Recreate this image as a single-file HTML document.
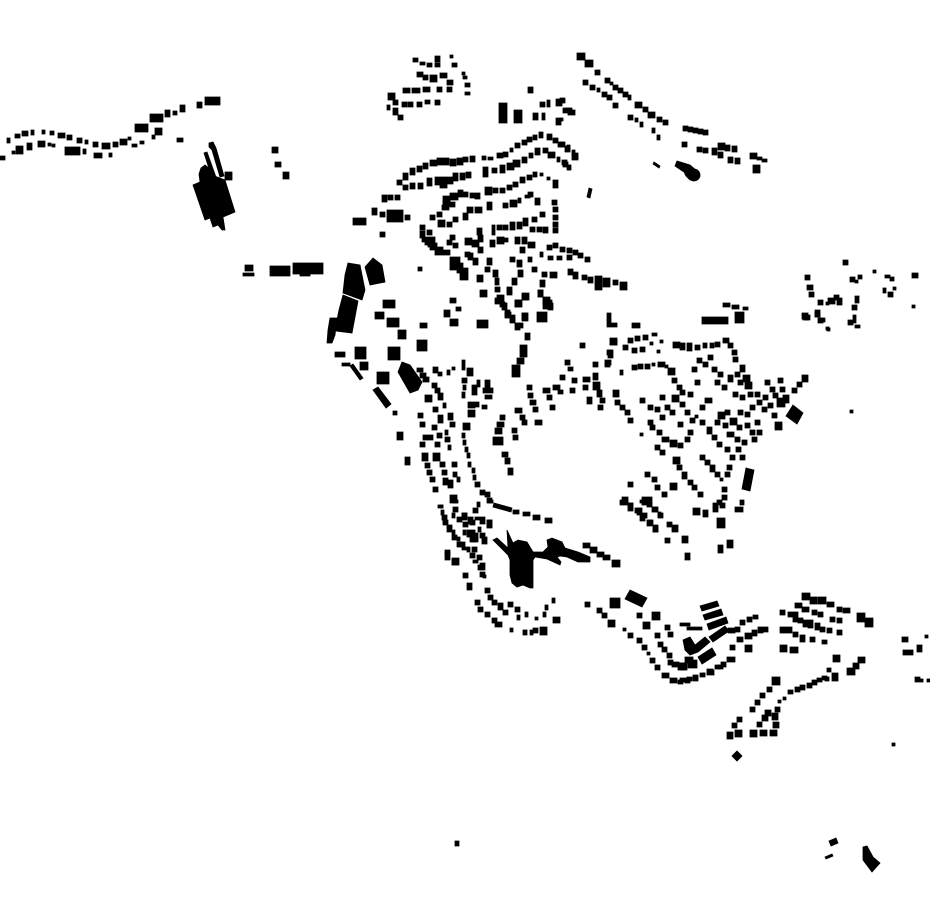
<!DOCTYPE html>
<html><head><meta charset="utf-8"><style>html,body{margin:0;padding:0;background:#fff;}svg{display:block;}</style></head>
<body>
<svg width="930" height="924" viewBox="0 0 930 924" xmlns="http://www.w3.org/2000/svg">
<rect width="930" height="924" fill="#fff"/>
<g fill="#000" stroke="#000" stroke-width="0.8" stroke-linejoin="miter">
<!-- top-left road -->
<path d="M7 138h3v5h-3zM15 134h5v4h-5zM22 131h6v5h-6zM31 130h3v5h-3zM42 130h3v4h-3zM50 131h4v4h-4zM58 133h7v5h-7zM67 135h5v5h-5zM77 138h5v5h-5zM85 140h3v4h-3zM93 142h5v5h-5zM102 143h8v6h-8zM113 142h5v5h-5zM120 139h7v6h-7zM128 137h3v3h-3zM135 124h13v8h-13zM150 114h13v8h-13zM165 110h5v7h-5zM173 111h4v4h-4zM180 105h5v7h-5zM197 102h5v6h-5zM205 97h15v8h-15zM0 156h5v4h-5zM12 151h3v3h-3zM16 146h7v8h-7zM27 143h5v7h-5zM38 141h7v6h-7zM48 143h3v3h-3zM52 144h3v3h-3zM65 147h15v8h-15zM83 149h3v5h-3zM94 153h8v5h-8zM109 153h3v4h-3zM132 144h5v3h-5zM140 141h4v3h-4zM152 135h3v4h-3zM155 128h7v7h-7zM177 138h6v4h-6z"/>
<polygon points="193,185 200,182 199,174 201,168 205,165 210,169 212,175 225,180 235,212 223,217 225,230 222,230 218,225 213,227 210,218 205,220"/>
<polygon points="209,143 213,142 216,148 224,176 220,177 212,150 209,147"/>
<polygon points="204,153 207,152 217,180 213,181"/>
<path d="M225 172h7v8h-7zM272 147h6v6h-6zM275 162h6v5h-6zM283 172h6v7h-6zM245 265h8v6h-8zM243 273h11v3h-11zM270 266h20v10h-20zM293 263h30v11h-30zM300 270h10v6h-10z"/>
<!-- top cluster -->
<path d="M413 58h5v4h-5zM420 62h5v3h-5zM427 63h5v4h-5zM435 56h5v6h-5zM435 63h5v4h-5zM450 55h3v3h-3zM452 63h5v4h-5zM462 72h3v3h-3zM463 76h4v3h-4zM465 83h5v4h-5zM465 92h5v3h-5zM417 72h6v5h-6zM423 75h5v5h-5zM430 75h7v7h-7zM440 73h7v5h-7zM447 80h6v5h-6zM403 88h7v5h-7zM412 88h8v5h-8zM423 87h7v5h-7zM437 87h5v5h-5zM447 87h5v5h-5zM388 93h7v7h-7zM393 100h5v5h-5zM402 102h5v5h-5zM408 102h5v5h-5zM417 102h5v5h-5zM425 100h5v4h-5zM435 100h5v5h-5zM387 105h3v5h-3zM393 108h5v7h-5zM398 115h5v5h-5z"/>
<path d="M499 103h8v20h-8zM514 110h8v13h-8zM528 87h5v6h-5zM533 113h5v7h-5zM540 102h5v5h-5zM547 100h3v7h-3zM542 113h3v7h-3zM556 99h6v7h-6zM563 108h7v5h-7zM568 110h7v5h-7zM556 118h5v7h-5z"/>
<!-- row A -->
<path d="M397 180h5v5h-5zM403 173h5v7h-5zM410 168h5v7h-5zM417 166h5v6h-5zM423 163h5v6h-5zM430 160h7v6h-7zM437 158h6v7h-6zM443 158h6v7h-6zM450 159h6v7h-6zM457 158h6v7h-6zM463 157h5v5h-5zM470 156h5v6h-5zM482 156h4v4h-4zM488 157h5v3h-5zM497 153h6v5h-6zM503 152h5v5h-5zM510 148h3v4h-3zM515 143h5v5h-5zM522 140h5v5h-5zM527 137h5v5h-5zM533 135h4v5h-4zM539 132h4v6h-4zM547 134h5v6h-5zM553 138h5v5h-5zM558 142h5v5h-5zM565 146h5v6h-5zM572 153h6v7h-6z"/>
<!-- row B -->
<path d="M403 185h5v5h-5zM410 183h5v6h-5zM418 183h5v6h-5zM427 178h5v8h-5zM435 177h5v8h-5zM440 177h7v11h-7zM447 177h6v7h-6zM453 173h5v8h-5zM460 173h5v7h-5zM466 172h5v6h-5zM483 167h5v10h-5zM492 168h5v5h-5zM500 165h5v8h-5zM507 163h7v7h-7zM513 160h7v7h-7zM522 157h5v6h-5zM529 153h4v5h-4zM535 148h5v7h-5zM543 148h5v5h-5zM548 152h7v6h-7zM557 157h3v5h-3zM562 160h5v5h-5zM567 165h3v5h-3z"/>
<!-- row C -->
<path d="M443 196h7v7h-7zM450 193h8v7h-8zM458 190h5v7h-5zM463 192h5v5h-5zM470 193h5v5h-5zM475 193h5v6h-5zM485 187h7v8h-7zM493 188h5v5h-5zM500 188h5v5h-5zM507 185h5v5h-5zM513 182h5v5h-5zM520 177h5v6h-5zM527 175h5v5h-5zM533 172h4v5h-4zM540 173h3v3h-3zM547 177h3v3h-3zM553 180h5v8h-5z"/>
<!-- row D -->
<path d="M430 215h5v5h-5zM437 212h5v5h-5zM442 205h7v5h-7zM443 201h7v5h-7zM450 202h5v5h-5zM467 207h6v6h-6zM475 207h7v6h-7zM487 202h5v8h-5zM503 203h5v5h-5zM510 200h7v7h-7zM518 198h3v5h-3zM525 195h5v3h-5zM528 192h5v5h-5zM535 198h5v7h-5zM552 200h5v5h-5zM553 207h5v5h-5zM553 215h5v5h-5zM553 222h5v5h-5zM553 228h5v5h-5z"/>
<!-- row E -->
<path d="M420 225h5v5h-5zM420 231h5v7h-5zM427 230h5v5h-5zM438 220h7v7h-7zM447 222h5v5h-5zM453 217h5v5h-5zM463 213h5v7h-5zM477 228h5v7h-5zM492 225h3v10h-3zM497 225h5v5h-5zM503 225h5v5h-5zM510 222h5v8h-5zM517 222h5v7h-5zM523 218h5v8h-5zM532 217h5v5h-5zM540 212h5v5h-5zM530 227h5v5h-5zM537 227h5v5h-5zM543 227h5v6h-5z"/>
<!-- row F -->
<path d="M422 237h7v5h-7zM425 240h5v5h-5zM428 237h7v10h-7zM430 243h7v7h-7zM435 247h8v8h-8zM443 250h7v5h-7zM447 240h5v5h-5zM450 235h5v5h-5zM453 243h5v5h-5zM465 238h7v7h-7zM472 240h7v7h-7zM478 235h5v7h-5zM478 247h5v6h-5zM490 240h5v7h-5zM497 237h7v7h-7zM503 238h5v4h-5zM515 237h5v7h-5zM522 237h5v7h-5zM528 242h7v6h-7z"/>
<!-- row G -->
<path d="M450 257h10v13h-10zM457 263h6v10h-6zM460 268h8v12h-8zM465 252h5v5h-5zM468 253h5v7h-5zM473 258h5v7h-5zM477 275h6v7h-6zM487 258h5v7h-5zM485 267h5v5h-5zM493 270h5v7h-5zM495 278h4v7h-4zM495 287h5v5h-5zM497 295h7v7h-7zM502 303h5v7h-5zM505 310h5v7h-5zM510 315h5v7h-5zM518 323h5v5h-5zM507 287h5v6h-5zM512 278h5v7h-5zM518 270h5v7h-5zM517 260h5v7h-5zM520 247h5v6h-5zM510 257h5v5h-5zM515 300h7v7h-7zM522 293h7v7h-7zM522 313h5v7h-5z"/>
<!-- right fork -->
<path d="M528 257h4v5h-4zM540 252h3v5h-3zM547 245h5v5h-5zM553 243h5v5h-5zM560 247h5v5h-5zM567 248h5v5h-5zM573 250h5v5h-5zM578 253h5v5h-5zM585 257h5v5h-5zM548 256h5v4h-5zM557 256h5v4h-5zM567 255h5v5h-5zM532 267h5v5h-5zM542 272h5v5h-5zM550 272h7v6h-7zM540 280h5v7h-5zM538 290h5v7h-5zM543 297h7v7h-7zM548 303h5v7h-5zM538 313h7v7h-7zM568 269h5v6h-5zM573 272h5v7h-5zM582 275h5v5h-5zM588 277h5v6h-5zM595 276h7v14h-7zM603 278h7v9h-7zM613 280h5v5h-5zM620 282h7v8h-7zM607 313h4v12h-4zM607 323h10v4h-10z"/>
<polygon points="589,188 592,189 590,198 587,197"/>
<!-- left side small -->
<path d="M353 218h5v7h-5zM358 218h8v7h-8zM380 232h5v5h-5zM372 208h5v7h-5zM380 212h5v5h-5zM387 210h16v12h-16zM405 215h5v5h-5zM382 195h5v7h-5zM388 195h5v5h-5zM395 195h5v5h-5z"/>
<path d="M383 300h12v8h-12zM375 312h9v7h-9zM387 318h12v9h-12zM398 330h8v9h-8zM418 267h4v4h-4zM420 323h7v5h-7zM417 340h10v11h-10zM450 298h6v5h-6zM456 307h5v4h-5zM444 310h6v7h-6zM450 319h8v7h-8zM477 320h11v8h-11zM480 290h7v7h-7zM495 298h6v6h-6zM500 302h5v5h-5zM505 312h6v6h-6zM510 318h5v5h-5zM515 323h5v7h-5zM507 290h5v5h-5zM515 300h5v7h-5zM522 295h6v5h-6zM522 313h6v8h-6zM538 290h5v7h-5zM543 300h9v9h-9zM537 312h10v10h-10zM525 333h5v7h-5zM520 345h7v7h-7zM520 352h7v5h-7zM517 358h7v6h-7zM512 365h8v12h-8z"/>
<polygon points="348,263 360,265 365,290 362,300 343,293 345,275"/>
<polygon points="343,295 358,301 352,333 336,331 337,320 339,310"/>
<polygon points="330,318 337,318 335,335 332,343 327,343 328,330"/>
<polygon points="365,267 373,258 382,265 385,282 370,285"/>
<path d="M355 347h11v12h-11zM360 362h8v8h-8zM335 352h10v5h-10zM342 363h8v3h-8zM388 347h12v13h-12zM377 372h12v12h-12zM393 411h4v4h-4zM397 432h6v8h-6zM405 457h5v8h-5z"/>
<polygon points="350,366 353,364 363,378 360,380"/>
<polygon points="402,362 410,365 422,382 418,390 410,393 398,372"/>
<polygon points="373,390 378,387 391,404 386,408"/>
<!-- central curves -->
<path d="M417 368h6v4h-6zM420 373h6v5h-6zM433 367h5v6h-5zM438 372h4v4h-4zM447 370h3v5h-3zM452 367h3v3h-3zM423 377h6v5h-6zM432 383h5v5h-5zM435 388h5v5h-5zM425 395h7v7h-7zM438 393h5v7h-5zM443 403h3v5h-3zM433 407h5v5h-5zM418 413h5v5h-5zM420 422h5v5h-5zM432 425h5v5h-5zM438 415h5v8h-5zM448 413h5v7h-5zM450 422h5v5h-5zM423 435h5v5h-5zM420 442h5v5h-5zM428 435h5v5h-5zM437 433h5v5h-5zM445 430h3v5h-3zM435 442h5v5h-5zM445 437h5v5h-5zM448 445h3v5h-3zM422 453h6v8h-6zM433 453h7v8h-7zM425 463h5v5h-5zM427 470h5v5h-5zM430 477h5v5h-5zM433 487h5v5h-5zM440 462h5v5h-5zM442 470h5v5h-5zM443 478h5v7h-5zM448 480h5v8h-5zM452 462h5v5h-5zM453 472h4v5h-4zM457 477h3v5h-3zM450 495h7v8h-7zM453 507h5v5h-5zM440 505h3v3h-3zM442 515h5v5h-5zM443 520h5v5h-5zM447 527h5v5h-5zM452 535h5v5h-5zM457 542h5v5h-5zM462 547h5v3h-5zM462 513h5v7h-5zM463 522h5v5h-5zM467 530h5v7h-5zM470 537h5v5h-5zM472 547h5v5h-5zM477 555h5v5h-5zM480 563h5v7h-5zM483 575h3v3h-3zM468 517h5v7h-5zM473 533h5v7h-5zM482 537h5v7h-5zM445 552h5v8h-5zM452 558h7v7h-7zM463 573h5v5h-5zM467 583h5v7h-5z"/>
<path d="M462 433h3v5h-3zM463 440h3v5h-3zM465 447h3v5h-3zM467 453h3v5h-3zM468 462h3v5h-3zM472 468h3v5h-3zM473 475h3v5h-3zM475 482h5v5h-5zM480 490h5v5h-5zM485 492h5v5h-5zM487 498h5v5h-5zM477 502h3v5h-3zM473 508h5v5h-5zM475 517h5v3h-5zM480 517h5v7h-5zM487 520h5v8h-5z"/>
<path d="M462 360h3v10h-3zM467 368h6v8h-6zM462 378h5v5h-5zM463 385h3v5h-3zM462 392h3v6h-3zM472 385h5v10h-5zM477 380h3v7h-3zM483 388h10v5h-10zM485 380h5v10h-5zM485 395h7v4h-7zM468 402h7v6h-7zM475 402h4v5h-4zM482 405h5v4h-5zM468 410h7v7h-7zM463 423h7v7h-7z"/>
<path d="M513 510h6v4h-6zM523 512h7v4h-7zM533 515h7v5h-7zM545 518h7v5h-7z"/>
<polygon points="494,503 512,508 511,512 493,507"/>
<!-- central right -->
<path d="M493 437h10v8h-10zM495 428h7v6h-7zM497 422h7v5h-7zM500 415h5v5h-5zM512 428h5v5h-5zM513 435h5v5h-5zM502 452h6v5h-6zM505 458h5v6h-5zM508 468h5v7h-5zM515 408h7v5h-7zM520 415h5v5h-5zM522 420h5v5h-5zM527 385h5v5h-5zM528 393h5v5h-5zM530 400h6v5h-6zM533 407h5v5h-5zM535 420h7v5h-7zM543 388h7v5h-7zM547 395h5v5h-5zM550 405h5v5h-5zM553 385h7v5h-7zM558 390h5v4h-5zM560 375h5v5h-5zM565 360h5v5h-5zM568 367h5v4h-5zM572 378h5v5h-5zM570 388h5v5h-5zM580 343h5v5h-5zM583 377h7v5h-7zM583 385h5v5h-5zM587 397h5v7h-5zM593 373h5v7h-5zM593 382h7v8h-7zM597 390h5v7h-5zM600 398h5v5h-5zM593 362h5v5h-5zM605 362h5v5h-5zM607 350h5v5h-5zM610 338h7v7h-7zM613 390h6v7h-6zM615 400h5v5h-5z"/>
<!-- east cluster -->
<path d="M723 303h7v4h-7zM732 305h7v4h-7zM743 307h5v3h-5zM702 317h26v7h-26zM735 312h9v11h-9zM803 315h7v5h-7zM815 310h5v7h-5zM820 318h5v4h-5zM827 328h3v3h-3zM632 323h8v5h-8zM610 339h7v6h-7zM608 350h5v8h-5zM605 360h6v5h-6zM620 370h3v5h-3zM623 345h5v5h-5zM628 338h5v5h-5zM632 348h5v5h-5zM635 336h5v5h-5zM640 347h5v5h-5zM643 335h5v5h-5zM650 342h3v3h-3zM652 333h5v3h-5zM660 340h3v3h-3zM657 350h3v3h-3zM673 342h7v6h-7zM680 343h5v7h-5zM687 343h5v8h-5zM695 345h5v5h-5zM703 343h4v5h-4zM710 343h4v5h-4zM715 342h5v5h-5zM723 338h6v5h-6zM728 343h5v5h-5zM732 350h5v5h-5zM733 357h5v5h-5zM740 365h5v7h-5zM743 375h7v7h-7zM632 365h5v5h-5zM638 364h5v5h-5zM645 364h5v5h-5zM652 363h3v3h-3zM658 362h7v5h-7zM665 365h3v3h-3zM668 368h7v7h-7zM672 378h5v5h-5zM677 385h5v5h-5zM672 395h7v7h-7zM680 390h5v5h-5zM688 392h5v5h-5zM695 380h5v5h-5zM692 367h5v5h-5zM697 358h5v5h-5zM703 362h5v5h-5zM708 355h5v5h-5zM712 367h5v5h-5zM718 372h5v5h-5zM715 380h5v5h-5zM722 385h5v5h-5zM728 375h5v7h-5zM735 372h5v5h-5zM738 380h5v5h-5zM745 382h7v7h-7zM733 392h5v5h-5zM740 395h5v5h-5zM748 392h5v5h-5zM755 392h5v5h-5zM757 400h5v5h-5zM762 407h5v5h-5zM750 405h5v5h-5zM745 412h5v5h-5zM738 410h5v5h-5zM725 410h5v5h-5zM718 412h7v7h-7zM715 420h5v5h-5zM723 423h5v5h-5zM730 418h7v7h-7zM737 425h5v5h-5zM745 423h5v5h-5zM750 430h5v5h-5zM757 430h5v5h-5zM727 432h7v5h-7zM735 437h5v5h-5zM742 440h5v5h-5zM752 437h5v5h-5zM700 420h5v5h-5zM707 427h5v7h-5zM712 435h5v5h-5zM717 442h5v5h-5zM705 398h7v5h-7zM700 405h5v5h-5zM695 415h3v3h-3zM680 402h5v5h-5zM685 410h5v5h-5zM690 418h5v5h-5zM665 405h5v5h-5zM660 415h5v5h-5zM655 407h5v5h-5zM648 405h5v5h-5zM640 398h5v5h-5zM650 425h5v5h-5zM657 430h5v5h-5zM662 437h7v5h-7zM670 440h7v7h-7zM678 443h5v5h-5zM685 437h5v5h-5zM688 430h5v5h-5zM678 422h5v5h-5zM670 410h5v5h-5zM660 395h5v5h-5zM598 405h5v5h-5zM620 405h5v5h-5zM625 410h5v5h-5zM628 418h5v5h-5zM640 433h3v3h-3zM655 445h5v5h-5zM660 450h5v5h-5zM673 457h7v7h-7zM677 465h5v5h-5zM682 472h5v7h-5zM688 480h5v5h-5zM692 485h5v5h-5zM698 492h5v5h-5zM700 455h5v5h-5zM705 460h5v5h-5zM710 465h5v7h-5zM715 472h5v5h-5zM720 478h3v3h-3zM722 487h5v5h-5zM722 495h5v5h-5zM717 500h5v5h-5zM713 507h5v5h-5zM703 510h5v7h-5zM693 508h7v7h-7zM717 518h8v10h-8zM718 545h5v8h-5zM727 540h6v8h-6zM735 507h8v5h-8zM740 500h4v5h-4zM725 472h5v5h-5zM727 465h5v5h-5zM730 455h5v5h-5zM725 447h5v5h-5zM736 447h5v5h-5zM740 455h5v5h-5zM765 380h5v5h-5zM770 387h5v5h-5zM773 393h5v5h-5zM778 378h5v5h-5zM780 387h5v5h-5zM777 398h8v9h-8zM783 395h6v8h-6zM792 388h5v5h-5zM797 382h5v5h-5zM802 375h6v7h-6zM775 422h7v8h-7zM772 413h5v5h-5zM768 403h5v5h-5zM763 395h5v5h-5zM755 420h5v5h-5zM648 420h5v5h-5z"/>
<polygon points="746,468 754,470 750,491 742,489"/>
<polygon points="793,405 803,413 797,424 786,416"/>
<path d="M622 497h6v6h-6zM628 503h5v6h-5zM635 508h5v5h-5zM640 515h5v6h-5zM647 520h5v6h-5zM653 527h5v5h-5zM642 497h10v8h-10zM652 507h5v5h-5zM658 513h5v5h-5zM667 522h5v5h-5zM672 525h6v7h-6zM665 538h5v5h-5zM682 536h6v7h-6zM628 482h5v5h-5zM645 472h5v5h-5zM652 477h5v5h-5zM655 485h5v5h-5zM662 492h5v5h-5zM670 483h7v7h-7zM685 553h5v7h-5z"/>
<!-- south arcs -->
<path d="M438 505h5v3h-5zM441 510h3v5h-3zM443 518h3v5h-3zM447 525h5v3h-5zM452 530h3v5h-3zM457 537h3v4h-3zM460 542h5v5h-5zM467 547h3v5h-3zM445 550h5v5h-5zM452 560h6v5h-6zM475 600h5v5h-5zM478 607h5v5h-5zM485 612h5v5h-5zM492 618h5v5h-5zM495 622h7v5h-7zM510 628h3v4h-3zM523 630h4v5h-4zM530 630h3v5h-3zM533 628h5v5h-5zM540 627h7v8h-7zM508 602h5v5h-5zM515 607h5v5h-5zM517 615h3v5h-3zM525 612h3v5h-3zM535 617h3v3h-3zM543 612h3v5h-3zM545 605h3v5h-3zM552 598h3v5h-3zM553 617h7v6h-7zM470 553h5v5h-5zM473 560h5v3h-5zM478 565h5v5h-5zM480 572h5v5h-5zM485 588h5v5h-5zM488 595h5v5h-5zM492 600h5v5h-5zM498 603h5v7h-5zM503 610h5v5h-5zM453 500h5v3h-5zM452 513h3v5h-3zM457 517h5v5h-5zM462 513h5v5h-5zM470 520h5v5h-5zM463 530h3v5h-3zM472 530h3v7h-3zM473 537h5v5h-5zM478 527h3v5h-3zM480 533h5v5h-5zM482 538h3v5h-3zM487 520h5v7h-5zM488 500h5v3h-5z"/>
<polygon points="493,540 497,538 508,548 507,530 513,543 518,540 527,542 533,552 543,552 548,547 547,540 552,538 562,542 565,548 578,552 590,557 590,562 578,562 567,557 560,556 557,557 561,562 560,565 547,559 535,557 533,560 533,588 530,588 523,585 517,587 512,583 510,575 510,560 508,555"/>
<path d="M583 543h7v5h-7zM590 547h7v6h-7zM597 552h7v5h-7zM603 555h7v5h-7zM612 560h8v7h-8z"/>
<path d="M585 602h5v5h-5zM610 598h10v10h-10zM597 608h5v5h-5zM602 613h5v5h-5zM608 620h7v7h-7zM637 613h5v5h-5zM643 622h7v7h-7zM652 612h8v8h-8zM665 625h5v5h-5zM668 632h5v5h-5zM655 633h5v5h-5zM658 642h5v5h-5zM662 647h5v5h-5zM667 653h5v5h-5zM668 660h5v5h-5zM672 662h7v5h-7zM678 663h7v7h-7zM623 628h3v3h-3zM628 633h5v5h-5zM637 638h5v5h-5zM642 645h5v5h-5zM647 652h3v3h-3zM650 658h5v5h-5zM655 665h5v5h-5zM662 673h7v5h-7zM670 678h7v5h-7zM678 680h5v4h-5zM685 678h5v5h-5zM693 677h5v4h-5zM702 673h3v3h-3zM707 670h7v5h-7zM715 665h5v4h-5zM721 662h5v5h-5zM620 500h8v5h-8zM628 503h5v8h-5zM637 508h5v7h-5zM642 513h5v5h-5zM648 520h5v5h-5zM653 525h5v7h-5zM640 500h5v3h-5zM647 502h5v5h-5zM653 507h5v5h-5zM658 512h3v5h-3zM713 503h5v5h-5zM720 503h5v5h-5z"/>
<polygon points="630,590 647,598 642,607 625,599"/>
<!-- SE cluster -->
<path d="M680 623h10v3h-10zM687 627h15v3h-15zM685 657h8v6h-8zM680 663h7v7h-7zM688 660h9v8h-9zM680 678h5v4h-5zM687 677h5v4h-5zM693 675h5v4h-5zM700 673h5v4h-5zM707 669h6v5h-6zM718 665h5v4h-5zM727 657h8v5h-8zM728 628h7v5h-7zM735 627h5v5h-5zM740 620h5v5h-5zM747 617h5v5h-5zM753 615h5v4h-5zM737 637h6v5h-6zM745 633h7v6h-7zM752 630h5v6h-5zM758 627h5v6h-5zM763 627h5v5h-5zM745 645h7v7h-7zM730 645h5v5h-5z"/>
<polygon points="700,606 717,601 719,606 702,611"/>
<polygon points="703,615 721,609 723,615 705,620"/>
<polygon points="707,624 726,617 728,623 709,630"/>
<polygon points="709,637 725,626 729,631 713,642"/>
<polygon points="683,640 690,637 695,645 705,637 710,642 698,652 690,655 685,650"/>
<polygon points="698,657 712,648 716,655 702,664"/>
<path d="M802 593h8v7h-8zM810 597h7v7h-7zM818 597h8v7h-8zM827 602h7v5h-7zM837 607h5v5h-5zM843 608h7v5h-7zM857 613h8v9h-8zM865 618h8v9h-8zM795 603h7v5h-7zM802 607h7v5h-7zM812 610h5v5h-5zM818 612h5v5h-5zM830 617h5v5h-5zM837 618h5v5h-5zM780 610h5v5h-5zM788 612h5v5h-5zM793 612h5v10h-5zM798 618h5v5h-5zM803 620h5v7h-5zM808 620h5v8h-5zM815 623h5v7h-5zM820 627h5v5h-5zM827 628h5v5h-5zM837 630h5v5h-5zM780 627h12v6h-12zM793 632h5v5h-5zM800 635h5v7h-5zM810 637h5v5h-5zM822 640h5v4h-5zM780 645h7v7h-7zM790 647h8v6h-8zM833 655h7v7h-7zM858 657h7v6h-7zM847 668h8v7h-8zM853 663h6v6h-6zM827 668h4v4h-4zM832 673h6v8h-6zM825 677h4v4h-4z"/>
<path d="M772 677h8v8h-8zM767 687h5v5h-5zM760 693h5v5h-5zM755 700h5v5h-5zM750 707h5v5h-5zM737 717h5v5h-5zM732 723h5v5h-5zM727 732h6v7h-6zM735 730h7v7h-7zM750 730h7v7h-7zM760 730h7v6h-7zM770 730h7v6h-7zM773 722h6v6h-6zM772 713h6v7h-6zM765 710h6v6h-6zM762 715h6v6h-6zM757 722h5v5h-5zM775 707h5v5h-5zM778 700h3v3h-3zM783 697h3v3h-3zM788 690h5v4h-5zM795 687h5v5h-5zM800 685h5v5h-5zM807 683h5v5h-5zM812 680h5v5h-5zM817 678h5v4h-5zM822 676h5v4h-5z"/>
<polygon points="737,751 742,756 737,761 732,756"/>
<path d="M902 637h6v5h-6zM903 650h10v5h-10zM917 645h5v7h-5zM925 635h3v3h-3zM915 677h5v5h-5zM920 679h3v3h-3zM927 679h3v3h-3zM892 743h3v3h-3z"/>
<!-- NE rows -->
<path d="M577 53h8v7h-8zM585 60h8v7h-8zM595 70h5v5h-5zM605 78h5v5h-5zM610 82h3v3h-3zM613 85h5v5h-5zM618 88h5v5h-5zM623 92h5v5h-5zM628 95h3v5h-3zM635 102h7v6h-7zM643 107h5v5h-5zM648 112h7v6h-7zM657 117h5v5h-5zM663 120h5v5h-5zM583 80h5v5h-5zM590 85h5v5h-5zM597 88h3v4h-3zM602 92h5v5h-5zM607 95h5v5h-5zM613 103h5v5h-5zM628 115h5v5h-5zM635 118h3v4h-3zM640 122h3v5h-3zM652 128h3v5h-3zM657 135h3v5h-3zM560 98h5v5h-5zM567 108h5v4h-5zM560 118h3v3h-3zM560 142h5v5h-5zM567 145h3v5h-3zM572 150h3v5h-3zM575 155h3v4h-3zM563 162h5v5h-5zM568 165h3v5h-3zM683 126h5v5h-5zM688 127h5v5h-5zM693 128h5v5h-5zM698 129h5v5h-5zM703 130h5v5h-5zM682 142h5v5h-5zM697 147h5v5h-5zM703 148h5v5h-5zM712 148h5v7h-5zM718 143h7v7h-7zM725 145h5v6h-5zM732 146h5v6h-5zM718 152h5v6h-5zM728 157h5v6h-5zM735 158h5v6h-5zM750 153h7v6h-7zM757 157h5v3h-5zM762 159h5v3h-5zM753 165h7v8h-7z"/>
<polygon points="675,166 677,161 690,165 697,171 700,176 697,180 690,180 686,176 684,172"/>
<circle cx="694" cy="175" r="6"/>
<polygon points="653,164 654,162 660,166 659,168"/>
<!-- far east cluster -->
<path d="M843 260h5v5h-5zM805 275h5v5h-5zM807 285h6v5h-6zM809 292h5v5h-5zM818 300h5v5h-5zM826 302h3v3h-3zM828 298h7v6h-7zM834 295h5v5h-5zM837 298h5v7h-5zM850 277h5v5h-5zM855 280h3v3h-3zM858 275h4v4h-4zM873 270h3v3h-3zM885 275h5v3h-5zM890 277h4v4h-4zM912 273h6v5h-6zM883 288h3v5h-3zM888 292h5v5h-5zM893 287h3v3h-3zM912 305h3v3h-3zM852 305h5v5h-5zM855 296h4v7h-4zM848 320h5v5h-5zM853 315h3v8h-3zM855 325h5v3h-5zM802 313h6v6h-6zM805 317h3v3h-3zM815 312h5v5h-5zM818 318h5v5h-5zM826 327h3v3h-3zM850 410h3v3h-3z"/>
<!-- bottom extras -->
<path d="M455 841h4v5h-4z"/>
<polygon points="829,841 836,838 838,843 831,846"/>
<polygon points="825,857 832,854 833,856 826,859"/>
<polygon points="863,847 867,846 873,857 880,863 872,872 863,860"/>
</g>
</svg>
</body></html>
